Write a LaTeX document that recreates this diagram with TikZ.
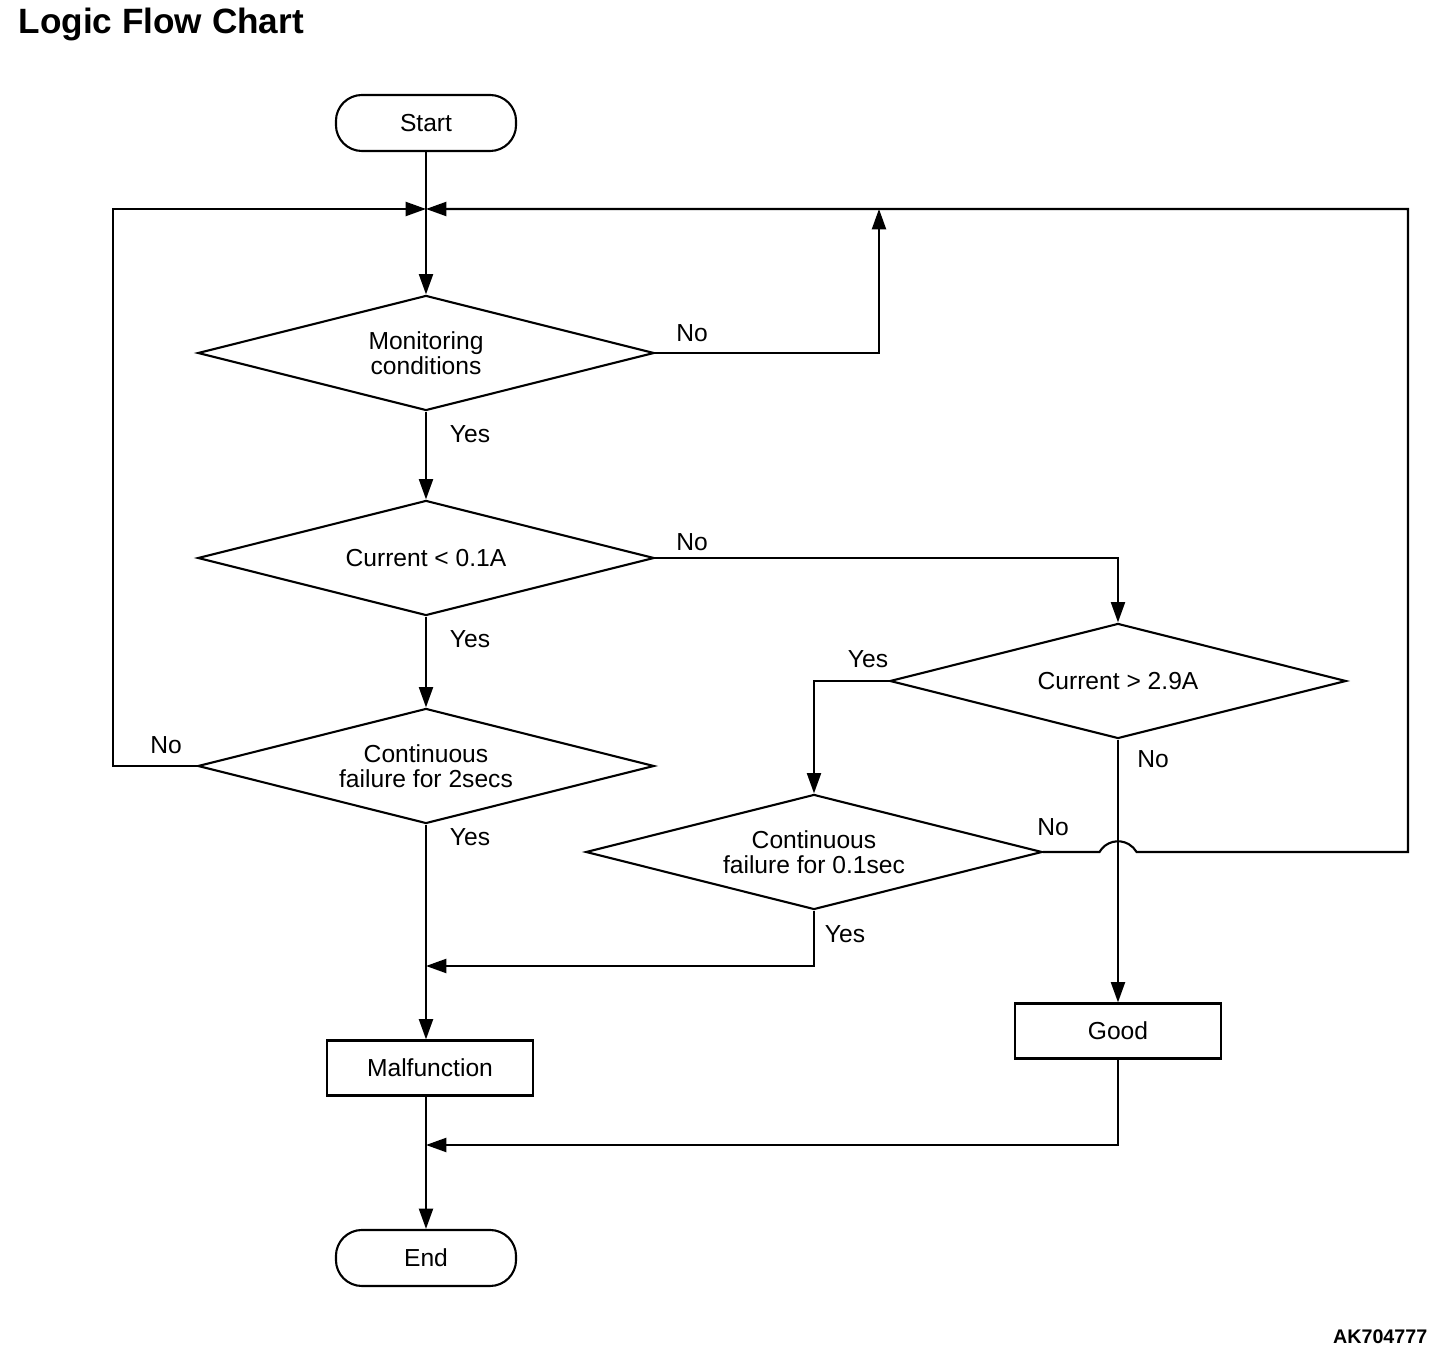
\documentclass[tikz,border=0pt]{standalone}
\usepackage{fontspec}
\setmainfont{Liberation Sans}
\usepackage{tikz}
\usetikzlibrary{shapes.geometric,arrows.meta,calc}

\tikzset{
  flow/.style={line width=0.6pt},
  arr/.style={flow, -{Triangle[length=5.8pt,width=4pt]}},
  decide/.style={draw, flow, diamond, aspect=4, inner sep=0pt, minimum width=4.56cm, minimum height=1.15cm, align=center, font=\fontsize{7}{7.2}\selectfont},
  term/.style={draw, flow, rounded corners=0.26cm, minimum width=1.8cm, minimum height=0.56cm, font=\fontsize{7}{8}\selectfont},
  proc/.style={draw, flow, minimum width=2.06cm, minimum height=0.55cm, font=\fontsize{7}{8}\selectfont},
  lbl/.style={font=\fontsize{7}{8}\selectfont},
}

\begin{document}
\begin{tikzpicture}[x=0.01cm, y=-0.01cm]
\useasboundingbox (0,0) rectangle (1456,1364);

\node[anchor=west, inner sep=0pt, font=\fontsize{10}{12}\selectfont\bfseries] (title) at (18,24) {Logic Flow Chart};
\node[anchor=east, inner sep=0pt, font=\fontsize{5.6}{7}\selectfont\bfseries] (code) at (1428,1337) {AK704777};

\node[term] (start) at (426,123) {Start};
\node[decide] (mon) at (426,353) {Monitoring\\conditions};
\node[decide] (lo) at (426,558) {Current \textless{} 0.1A};
\node[decide] (lofail) at (426,766) {Continuous\\failure for 2secs};
\node[decide] (hi) at (1118,681) {Current \textgreater{} 2.9A};
\node[decide] (hifail) at (814,852) {Continuous\\failure for 0.1sec};
\node[proc] (bad) at (430,1068) {Malfunction};
\node[proc] (good) at (1118,1031) {Good};
\node[term] (end) at (426,1258) {End};

\coordinate (top) at (426,209);
\coordinate (lft) at (113,209);
\coordinate (rgt) at (1408,209);
\coordinate (up) at (879,209);
\coordinate (join1) at (426,966);
\coordinate (join2) at (426,1145);

\draw[flow] (start) -- (top);
\draw[arr] (top) -- (mon);
\draw[arr] (mon) -- (lo);
\draw[arr] (lo) -- (lofail);
\draw[arr] (lofail.south) -- (lofail.south |- bad.north);
\draw[arr] (bad.south -| top) -- (end);
\draw[arr] (mon.east) -| (up);
\draw[arr] (lo.east) -| (hi.north);
\draw[arr] (lofail.west) -| (lft) -- (top);
\draw[arr] (hi.west) -| (hifail.north);
\draw[arr] (hi.south) -- (good.north);
\draw[arr] (hifail.south) |- (join1);
\draw[arr] (good.south) |- (join2);
\draw[arr] (hifail.east) -- ($(hifail.east -| hi.south)+(-18.5,0)$) arc[start angle=150, end angle=30, radius=0.214cm] -- (hifail.east -| rgt) -- (rgt) -- (top);

\node[lbl] (monno) at (692,333) {No};
\node[lbl] (monyes) at (470,434) {Yes};
\node[lbl] (lono) at (692,542) {No};
\node[lbl] (loyes) at (470,639) {Yes};
\node[lbl] (lofailno) at (166,745) {No};
\node[lbl] (lofailyes) at (470,837) {Yes};
\node[lbl] (hiyes) at (868,659) {Yes};
\node[lbl] (hino) at (1153,759) {No};
\node[lbl] (hifailno) at (1053,827) {No};
\node[lbl] (hifailyes) at (845,934) {Yes};
\end{tikzpicture}
\end{document}
